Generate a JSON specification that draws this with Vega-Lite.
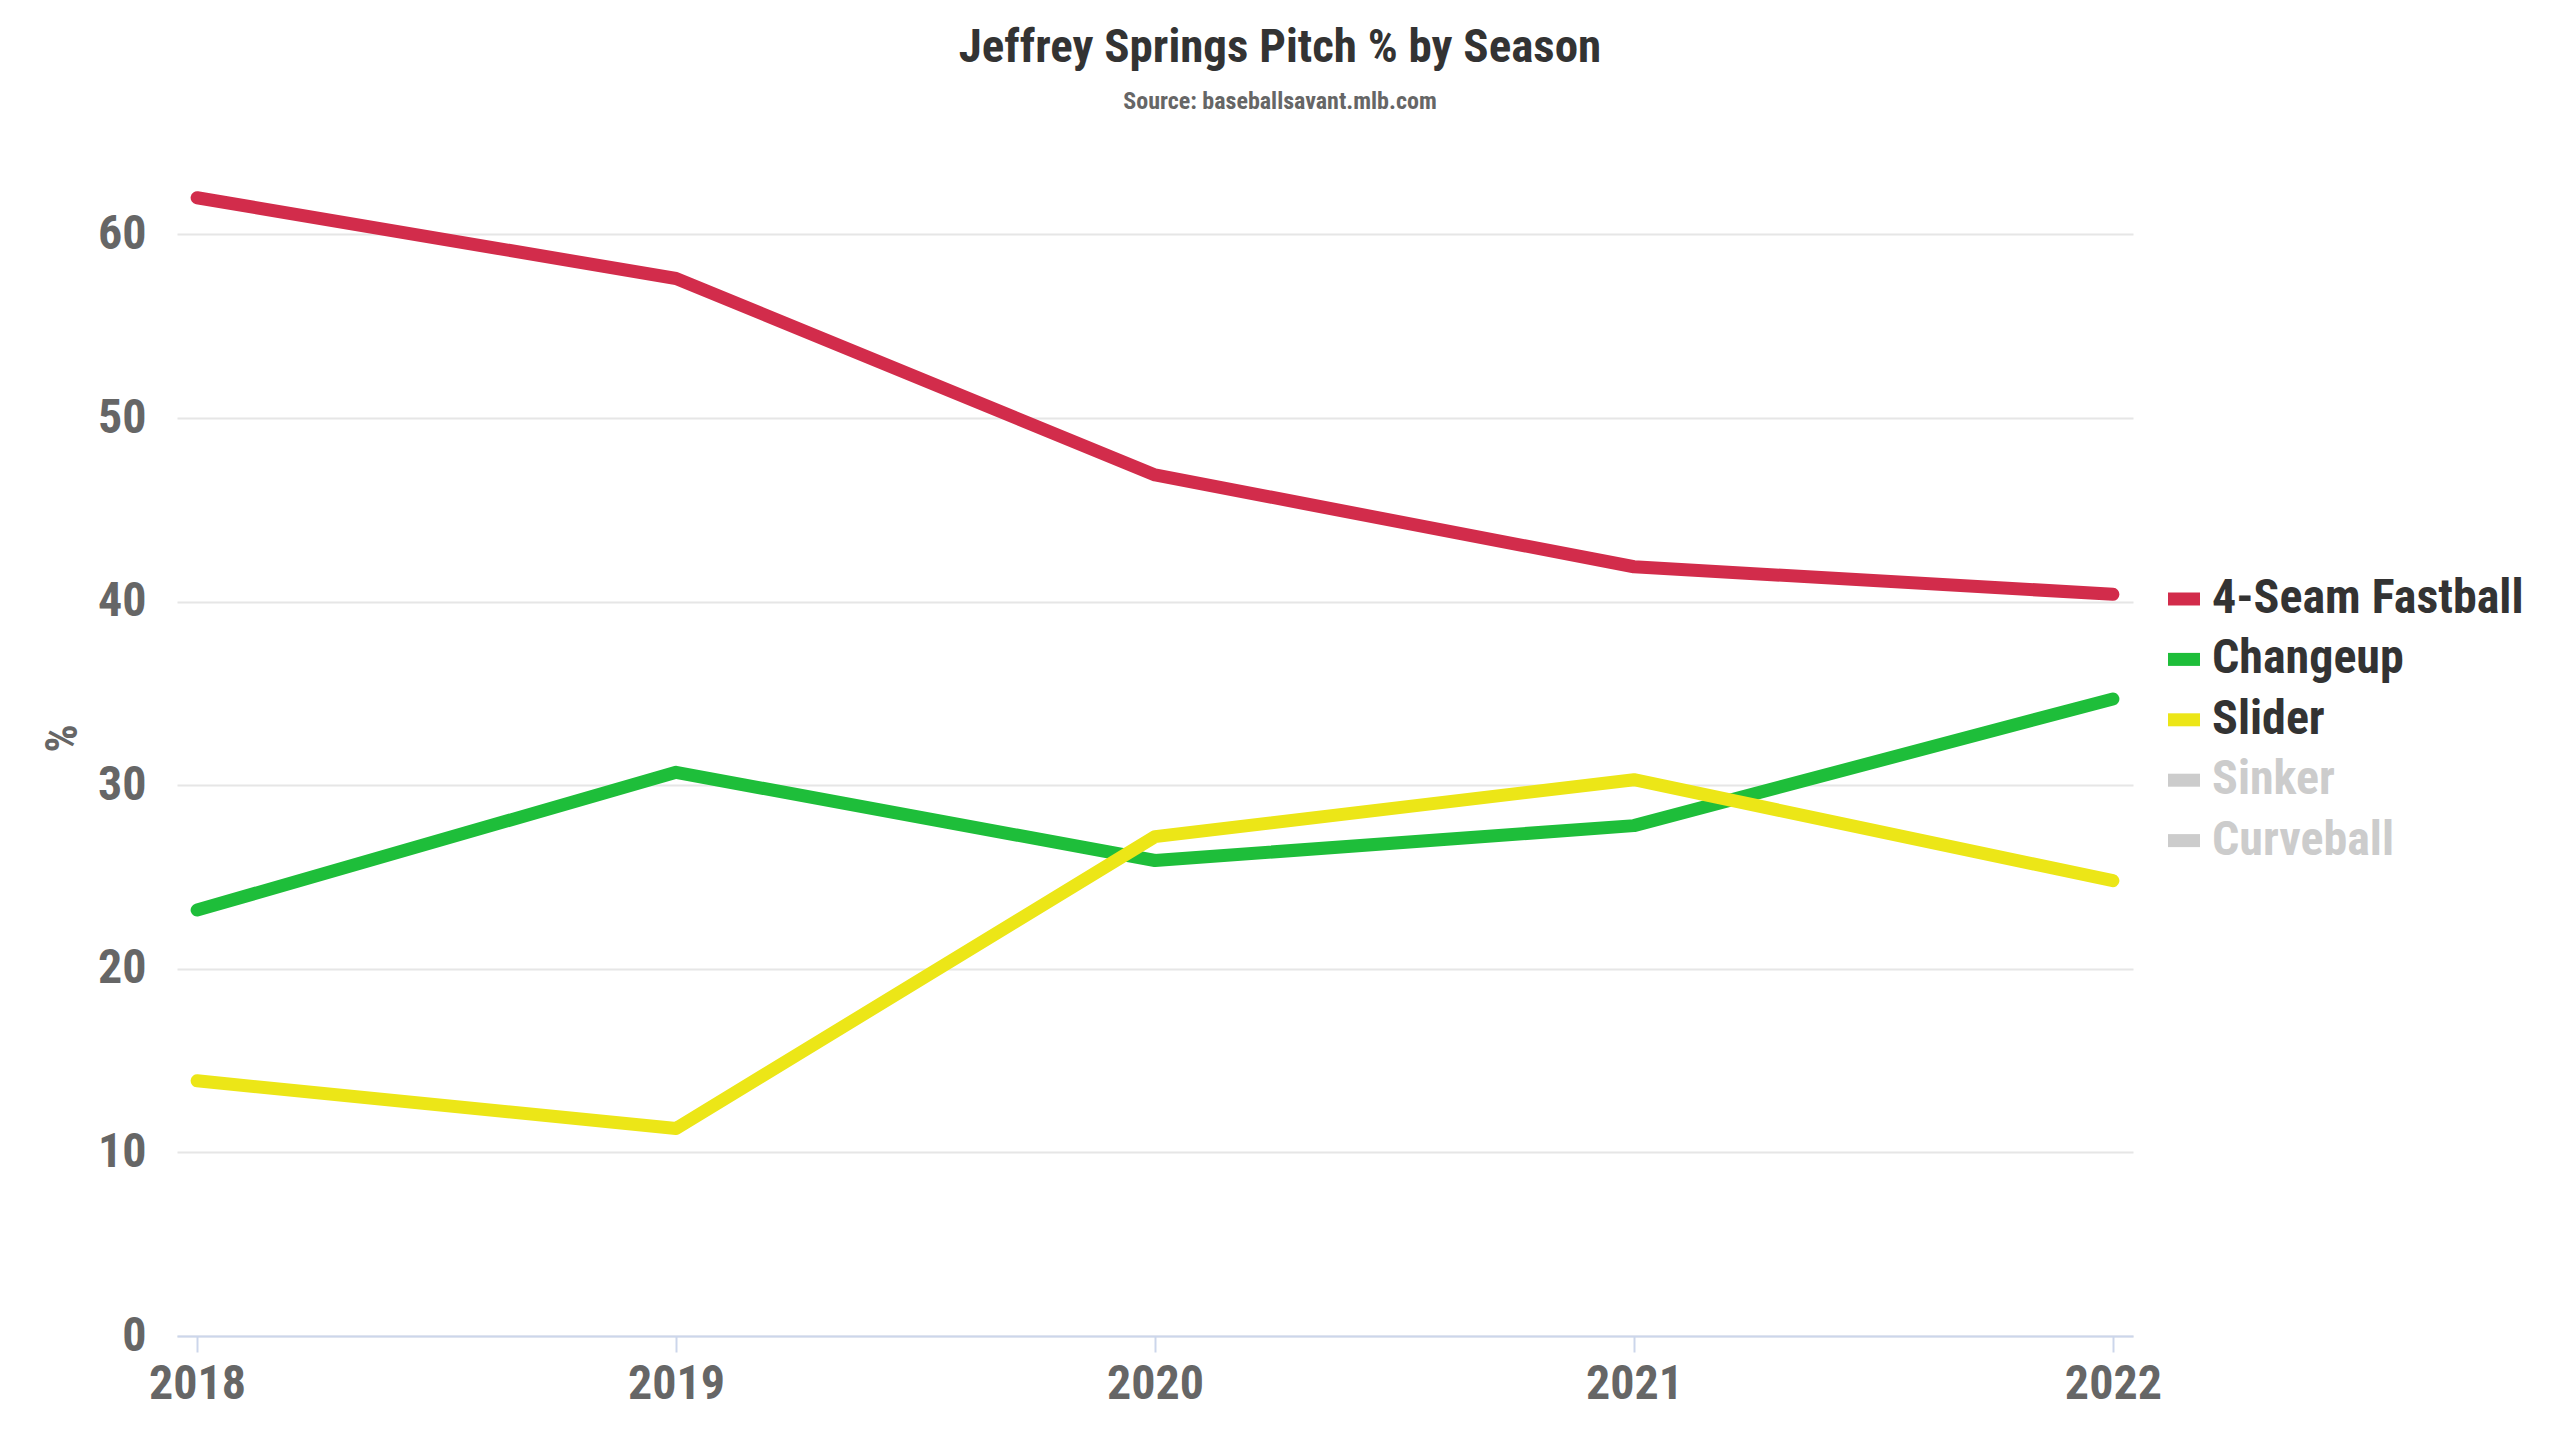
{
  "$schema": "https://vega.github.io/schema/vega-lite/v6.json",
  "autosize": "none",
  "width": 1956,
  "height": 1175,
  "padding": {"left": 177, "top": 161, "right": 427, "bottom": 104},
  "background": "white",
  "view": {"stroke": null},
  "title": {
    "text": "Jeffrey Springs Pitch % by Season",
    "subtitle": "Source: baseballsavant.mlb.com",
    "anchor": "middle",
    "frame": "group",
    "dx": 125,
    "offset": 46,
    "font": "Liberation Sans Narrow, Roboto Condensed, Roboto",
    "fontSize": 47,
    "fontWeight": "bold",
    "color": "#333333",
    "subtitleFont": "Liberation Sans Narrow, Roboto Condensed, Roboto",
    "subtitleFontSize": 24,
    "subtitleFontWeight": "bold",
    "subtitleColor": "#666666",
    "subtitlePadding": 18
  },
  "data": {
    "values": [
      {"season": "2018", "pitch": "4-Seam Fastball", "pct": 62.0},
      {"season": "2019", "pitch": "4-Seam Fastball", "pct": 57.6},
      {"season": "2020", "pitch": "4-Seam Fastball", "pct": 46.9},
      {"season": "2021", "pitch": "4-Seam Fastball", "pct": 41.9},
      {"season": "2022", "pitch": "4-Seam Fastball", "pct": 40.4},
      {"season": "2018", "pitch": "Changeup", "pct": 23.2},
      {"season": "2019", "pitch": "Changeup", "pct": 30.7},
      {"season": "2020", "pitch": "Changeup", "pct": 25.9},
      {"season": "2021", "pitch": "Changeup", "pct": 27.8},
      {"season": "2022", "pitch": "Changeup", "pct": 34.7},
      {"season": "2018", "pitch": "Slider", "pct": 13.9},
      {"season": "2019", "pitch": "Slider", "pct": 11.3},
      {"season": "2020", "pitch": "Slider", "pct": 27.2},
      {"season": "2021", "pitch": "Slider", "pct": 30.3},
      {"season": "2022", "pitch": "Slider", "pct": 24.8}
    ]
  },
  "mark": {"type": "line", "strokeWidth": 13, "strokeCap": "round", "strokeJoin": "round"},
  "encoding": {
    "x": {
      "field": "season",
      "type": "ordinal",
      "scale": {"type": "point", "padding": 0.042},
      "axis": {
        "title": null,
        "labelAngle": 0,
        "labelFont": "Liberation Sans Narrow, Roboto Condensed, Roboto",
        "labelFontSize": 48,
        "labelFontWeight": "bold",
        "labelColor": "#666666",
        "labelPadding": 8,
        "domainColor": "#ccd6eb",
        "domainWidth": 2,
        "tickColor": "#ccd6eb",
        "tickWidth": 2,
        "tickSize": 16,
        "grid": false
      }
    },
    "y": {
      "field": "pct",
      "type": "quantitative",
      "scale": {"domain": [0, 64], "nice": false},
      "axis": {
        "values": [0, 10, 20, 30, 40, 50, 60],
        "title": "%",
        "titleFont": "Liberation Sans Narrow, Roboto Condensed, Roboto",
        "titleFontSize": 44,
        "titleFontWeight": "bold",
        "titleColor": "#666666",
        "titleX": -114,
        "titleY": 577,
        "titleAngle": -90,
        "titleAlign": "center",
        "titleBaseline": "middle",
        "labelFont": "Liberation Sans Narrow, Roboto Condensed, Roboto",
        "labelFontSize": 48,
        "labelFontWeight": "bold",
        "labelColor": "#666666",
        "labelPadding": 31,
        "domain": false,
        "ticks": false,
        "gridColor": "#e6e6e6",
        "gridWidth": 2
      }
    },
    "color": {
      "field": "pitch",
      "type": "nominal",
      "scale": {
        "domain": ["4-Seam Fastball", "Changeup", "Slider", "Sinker", "Curveball"],
        "range": ["#d22c4b", "#1ebe3a", "#ece617", "#cccccc", "#cccccc"]
      },
      "legend": {
        "title": null,
        "orient": "none",
        "legendX": 1983,
        "legendY": 414,
        "symbolType": "stroke",
        "symbolSize": 1024,
        "symbolStrokeWidth": 13,
        "labelFont": "Liberation Sans Narrow, Roboto Condensed, Roboto",
        "labelFontSize": 48,
        "labelFontWeight": "bold",
        "labelColor": "#333333",
        "labelOffset": 4,
        "labelLimit": 500,
        "rowPadding": 8.4,
        "encode": {
          "symbols": {"update": {"strokeCap": {"value": "butt"}}},
          "labels": {
            "update": {
              "fill": {"signal": "indexof(['Sinker','Curveball'], datum.label) >= 0 ? '#cccccc' : '#333333'"}
            }
          }
        }
      }
    }
  }
}
